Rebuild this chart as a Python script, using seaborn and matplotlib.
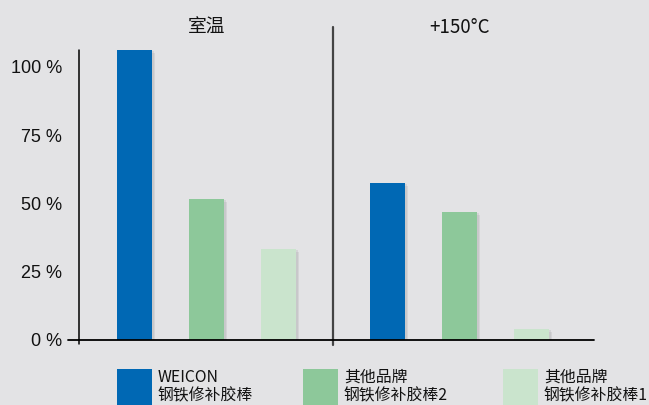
import matplotlib
matplotlib.use("Agg")
import matplotlib.pyplot as plt
import matplotlib.patheffects as pe
import pandas as pd
import seaborn as sns

# data
conditions = ["室温", "+150°C"]
products = ["WEICON\n钢铁修补胶棒", "其他品牌\n钢铁修补胶棒2", "其他品牌\n钢铁修补胶棒1"]
values_room = [106.2, 51.6, 33.3]
values_hot = [57.5, 46.9, 4.0]
colors = ["#0068B4", "#8DC89A", "#CAE4CD"]
ytick_vals = [0, 25, 50, 75, 100]
ytick_labels = ["0 %", "25 %", "50 %", "75 %", "100 %"]

rows = []
for cond, vals in zip(conditions, [values_room, values_hot]):
    for prod, v in zip(products, vals):
        rows.append({"condition": cond, "product": prod, "value": v})
df = pd.DataFrame(rows)

sns.set_style("white")
plt.rcParams["font.family"] = ["Noto Sans CJK SC", "DejaVu Sans"]

bg = "#E3E3E5"
fig = plt.figure(figsize=(6.49, 4.05), dpi=100, facecolor=bg)
ax = fig.add_axes([79 / 649, 65 / 405, 515 / 649, 290 / 405])
ax.set_facecolor(bg)

sns.barplot(data=df, x="condition", y="value", hue="product", order=conditions,
            hue_order=products, palette=colors, width=0.854, gap=0.515,
            saturation=1, legend=False, ax=ax)

# soft drop shadow like the reference
shadow = [pe.SimplePatchShadow(offset=(2.5, -2), shadow_rgbFace="#a8a8aa", alpha=0.25),
          pe.SimplePatchShadow(offset=(1.5, -1), shadow_rgbFace="#a8a8aa", alpha=0.25),
          pe.Normal()]
for bar in ax.patches:
    bar.set_path_effects(shadow)
    bar.set_linewidth(0)

ax.set_xlim(-0.504, 1.532)
ax.set_ylim(0, 106.2)
sns.despine(ax=ax, left=True, bottom=True)
ax.set_xticks([])
ax.set_xlabel("")
ax.set_ylabel("")
ax.set_yticks(ytick_vals)
ax.set_yticklabels(ytick_labels)
for lbl in ax.get_yticklabels():
    lbl.set_fontfamily("Liberation Sans")
    lbl.set_fontsize(13)
ax.tick_params(axis="y", length=0, pad=12, colors="#111111")

# axis lines
ax.axvline(-0.504, ymin=0, ymax=1, color="black", lw=1.1, clip_on=False)
ax.plot([-0.504, -0.504], [-1.5, 0], color="black", lw=1.1, clip_on=False)
ax.plot([-0.548, 1.532], [0, 0], color="black", lw=1.3, clip_on=False, zorder=5)
ax.plot([0.5, 0.5], [-2, 114.8], color="#444444", lw=1.6, clip_on=False)

# group headers
for i, cond in enumerate(conditions):
    ax.text(i, 114.6, cond, ha="center", va="center", fontsize=13.5, color="#111111")

# legend drawn by hand below the axes
leg_x = [117, 303, 503]
for x0, lab, col in zip(leg_x, products, colors):
    fig.patches.append(plt.Rectangle((x0 / 649, -0.01), 35 / 649, 36 / 405 + 0.01,
                                     transform=fig.transFigure, color=col, lw=0))
    fig.text((x0 + 41) / 649, 1 - 369 / 405, lab, ha="left", va="top",
             fontsize=11.4, linespacing=1.12, color="#111111")

fig.savefig("out.png", dpi=100, facecolor=bg)
